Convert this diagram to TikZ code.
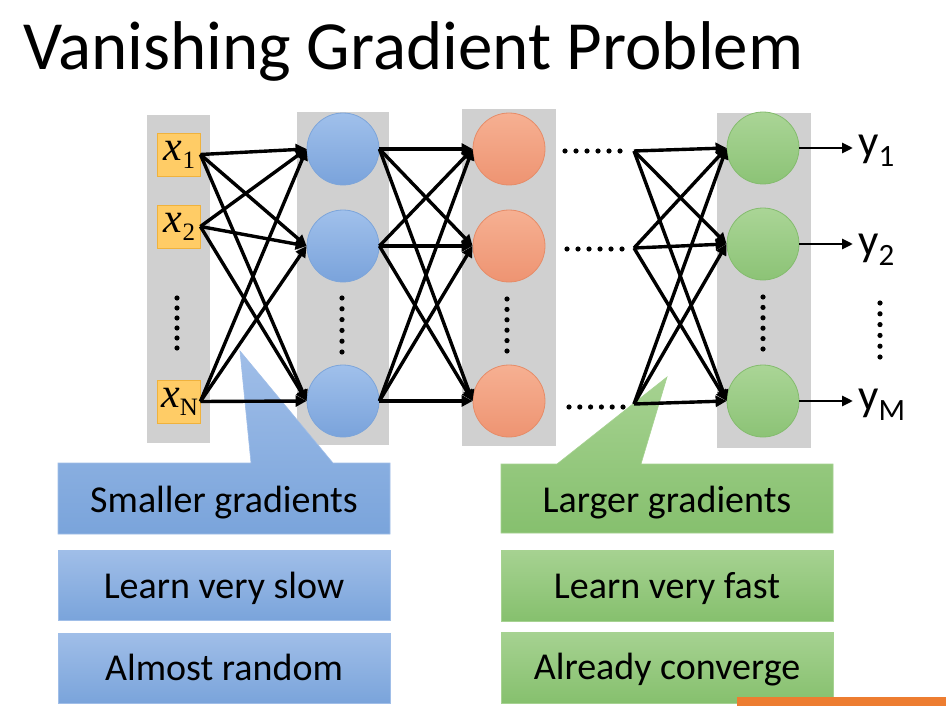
\documentclass[tikz,border=0pt]{standalone}
\usepackage{fontspec}
\setmainfont{Carlito}
\newfontfamily\tnr{Liberation Serif}
\usetikzlibrary{arrows.meta}
\definecolor{colgray}{RGB}{208,208,208}
\definecolor{infill}{RGB}{255,204,102}
\definecolor{inborder}{RGB}{240,178,60}
\definecolor{blueT}{RGB}{160,192,235}
\definecolor{blueBot}{RGB}{122,163,219}
\definecolor{blueB}{RGB}{125,165,218}
\definecolor{oraT}{RGB}{246,176,146}
\definecolor{oraBot}{RGB}{238,148,114}
\definecolor{oraB}{RGB}{230,140,104}
\definecolor{greT}{RGB}{170,213,150}
\definecolor{greBot}{RGB}{140,195,118}
\definecolor{greB}{RGB}{132,188,110}
\definecolor{cbT}{RGB}{160,190,232}
\definecolor{cbB}{RGB}{122,164,219}
\definecolor{cgT}{RGB}{166,210,145}
\definecolor{cgB}{RGB}{134,192,110}
\definecolor{barora}{RGB}{237,125,49}
\tikzset{
  col/.style={fill=colgray, draw=none},
  inbox/.style={draw=inborder, fill=infill, minimum size=43pt, inner sep=0pt, line width=0.8pt},
  neuron/.style={circle, minimum size=72pt, inner sep=0pt, line width=0.8pt},
  blueN/.style={neuron, draw=blueB, top color=blueT, bottom color=blueBot},
  oraN/.style={neuron, draw=oraB, top color=oraT, bottom color=oraBot},
  greN/.style={neuron, draw=greB, top color=greT, bottom color=greBot},
  conn/.style={line width=3.4pt, -{Triangle[length=11pt,width=11pt]}},
  outconn/.style={line width=2.8pt, -{Triangle[length=11pt,width=10pt]}},
  boxtext/.style={anchor=base, inner sep=0pt, font=\fontsize{38}{40}\selectfont},
  bluebox/.style={draw=cbT, line width=0.6pt, top color=cbT, bottom color=cbB},
  greenbox/.style={draw=cgT, line width=0.6pt, top color=cgT, bottom color=cgB},
  inlabel/.style={inner sep=0pt, font=\tnr\fontsize{42}{42}\selectfont},
  outlabel/.style={anchor=base west, inner sep=0pt, font=\fontsize{45}{45}\selectfont},
}
\newcommand{\dotcol}[4]{% x, y start, y end
  \foreach \k in {0,...,5}{\fill (#1,{#2+\k*(#3-#2)/5}) circle (#4);}}
\newcommand{\dotrow}[4]{%
  \foreach \k in {0,...,5}{\fill ({#1+\k*(#2-#1)/5},#3) circle (#4);}}
\begin{document}
\begin{tikzpicture}[x=1pt,y=-1pt]
\useasboundingbox[fill=white] (0,0) rectangle (946,706);
% title
\node[anchor=base west, inner sep=0pt, font=\fontsize{69}{72}\selectfont] (title) at (23,70) {Vanishing Gradient Problem};
% columns
\fill[col] (147,115) rectangle (210,443);
\fill[col] (297,112) rectangle (389,445);
\fill[col] (462,109) rectangle (556,446);
\fill[col] (717,113) rectangle (811,448);
% callouts (under the connectors)
\path[bluebox] (58,463) -- (251,463) -- (240,351) -- (333,463) -- (390,463) -- (390,534) -- (58,534) -- cycle;
\path[bluebox] (58,550) rectangle (390,620);
\path[bluebox] (58,633) rectangle (390,703);
\path[greenbox] (501,464) -- (557,464) -- (667,377) -- (641,464) -- (833,464) -- (833,533) -- (501,533) -- cycle;
\path[greenbox] (501,550) rectangle (833,621);
\path[greenbox] (501,632) rectangle (833,703);
\node[boxtext] (t1) at (224,512) {Smaller gradients};
\node[boxtext] (t2) at (224,598) {Learn very slow};
\node[boxtext] (t3) at (224,680) {Almost random};
\node[boxtext] (t4) at (667,512) {Larger gradients};
\node[boxtext] (t5) at (667,598) {Learn very fast};
\node[boxtext] (t6) at (667,679) {Already converge};
% input boxes
\node[inbox] (in1) at (178.5,154.5) {};
\node[inbox] (in2) at (178.5,226.5) {};
\node[inbox] (in3) at (178.5,401.5) {};
\node[inlabel] at ([xshift=1pt]in1) {\itshape x\raisebox{-8pt}{\upshape\fontsize{25}{25}\selectfont 1}};
\node[inlabel] at ([xshift=1pt]in2) {\itshape x\raisebox{-8pt}{\upshape\fontsize{25}{25}\selectfont 2}};
\node[inlabel] at ([xshift=1pt]in3) {\itshape x\raisebox{-8pt}{\upshape\fontsize{25}{25}\selectfont N}};
% neurons
\node[blueN] (b1) at (343,149) {};
\node[blueN] (b2) at (343,246) {};
\node[blueN] (b3) at (343,401) {};
\node[oraN] (o1) at (509,149) {};
\node[oraN] (o2) at (509,246) {};
\node[oraN] (o3) at (509,401) {};
\node[greN] (g1) at (763,148) {};
\node[greN] (g2) at (763,244) {};
\node[greN] (g3) at (763,401) {};
% fan origins
\coordinate (f1) at (634,151);
\coordinate (f2) at (634,248);
\coordinate (f3) at (634,404);
% connectors
\foreach \s in {in1,in2,in3}{\foreach \t in {b1,b2,b3}{\draw[conn] (\s.east) -- (\t.west);}}
\foreach \s in {b1,b2,b3}{\foreach \t in {o1,o2,o3}{\draw[conn] (\s.east) -- (\t.west);}}
\foreach \s in {f1,f2,f3}{\foreach \t in {g1,g2,g3}{\draw[conn] (\s) -- (\t.west);}}
% outputs
\coordinate (y1) at (853,148);
\coordinate (y2) at (853,244);
\coordinate (y3) at (853,401);
\draw[outconn] (g1.east) -- (y1);
\draw[outconn] (g2.east) -- (y2);
\draw[outconn] (g3.east) -- (y3);
\node[outlabel] (ly1) at (858,157) {y\raisebox{-10pt}{\fontsize{31}{31}\selectfont 1}};
\node[outlabel] (ly2) at (858,255) {y\raisebox{-10pt}{\fontsize{31}{31}\selectfont 2}};
\node[outlabel] (ly3) at (858,410) {y\raisebox{-10pt}{\fontsize{31}{31}\selectfont M}};
% dots
\dotcol{177}{298}{348}{2.6}
\dotcol{342}{298}{352}{2.6}
\dotcol{507}{299}{351}{2.6}
\dotcol{763}{297}{349}{2.6}
\dotcol{880}{303}{357}{2.6}
\dotrow{565}{620}{151}{2.6}
\dotrow{567}{622}{249}{2.6}
\dotrow{569}{623}{407}{2.6}
% orange bar
\fill[barora] (737,697) rectangle (946,706);
\end{tikzpicture}
\end{document}
